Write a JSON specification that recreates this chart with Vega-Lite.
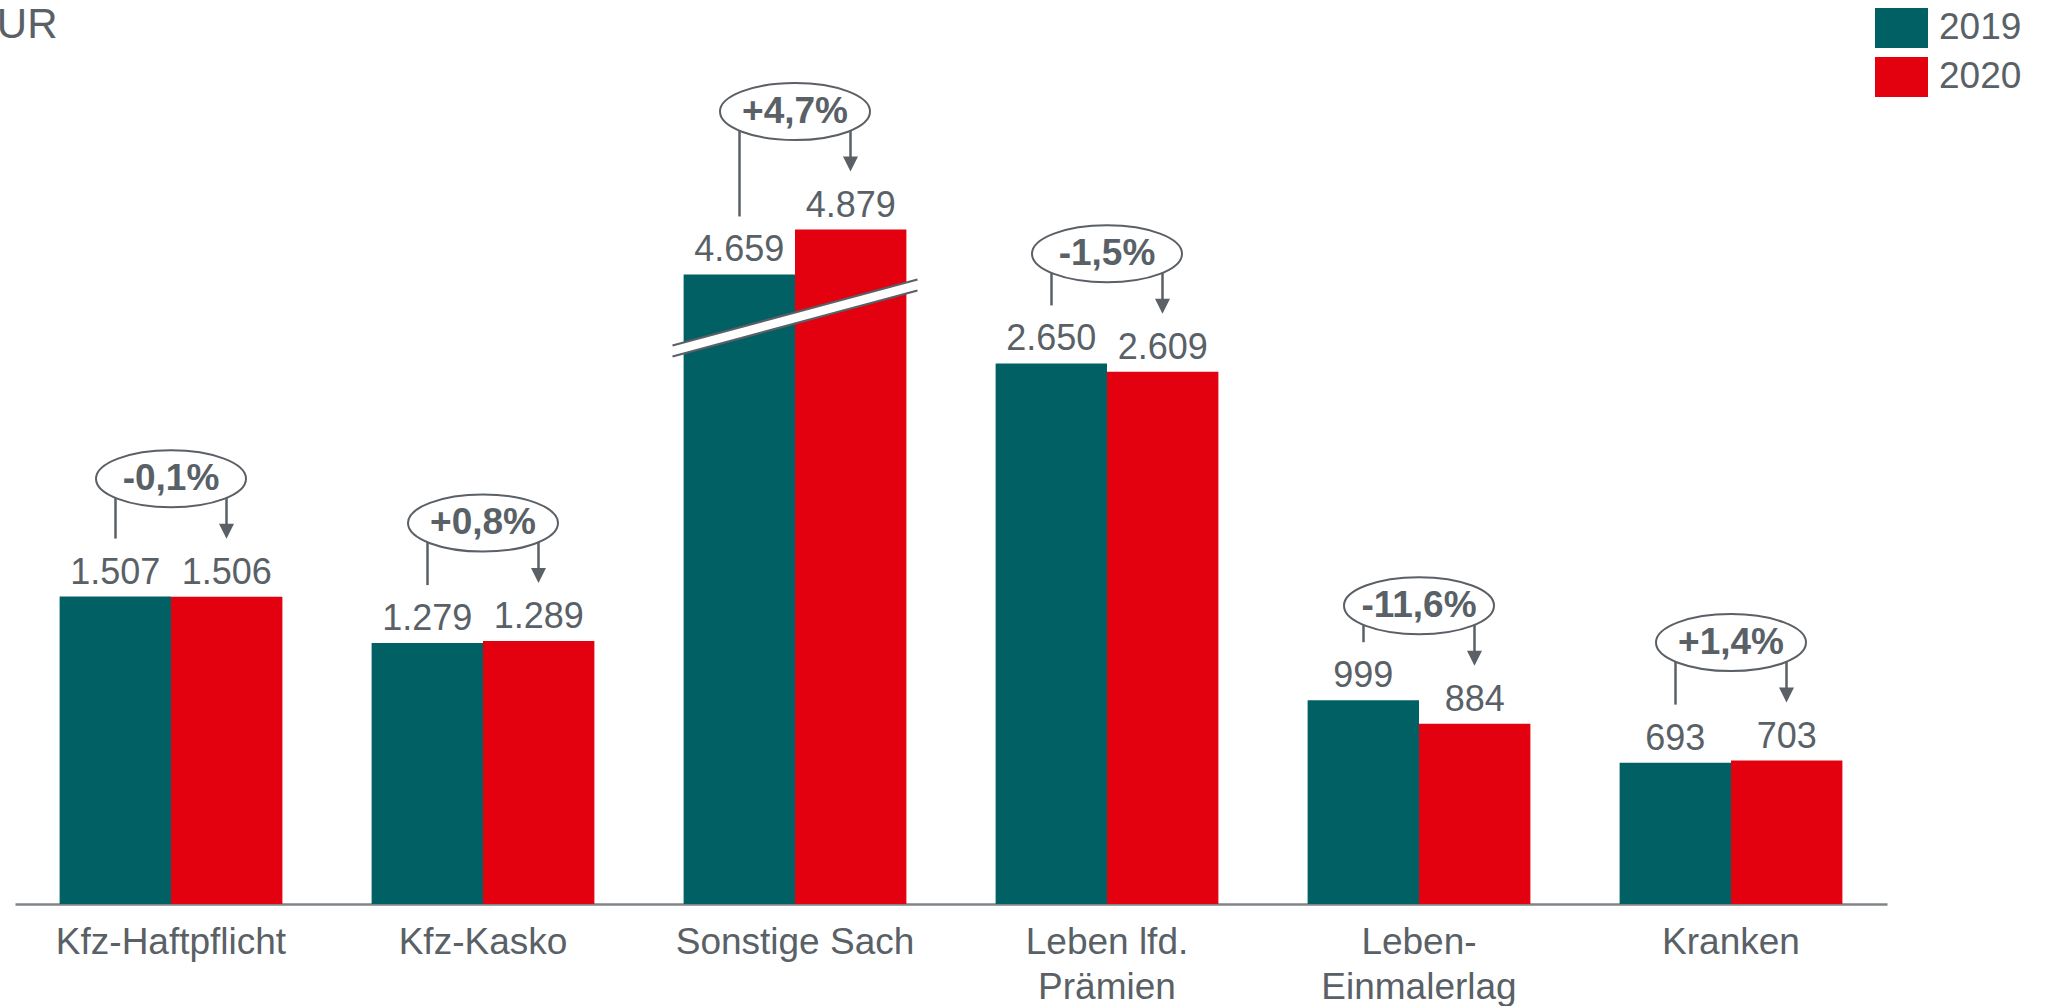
{
  "$schema": "https://vega.github.io/schema/vega-lite/v6.json",
  "width": 1872,
  "height": 904,
  "autosize": {"type": "none"},
  "padding": {"left": 15, "top": 0, "right": 160, "bottom": 102},
  "background": "white",
  "config": {
    "view": {"stroke": null},
    "font": "Liberation Sans",
    "locale": {"number": {"decimal": ",", "thousands": ".", "grouping": [3], "currency": ["", " €"]}}
  },
  "data": {"values": [
    {"cat": "Kfz-Haftpflicht", "2019": 1507, "2020": 1506, "pct": "-0,1%"},
    {"cat": "Kfz-Kasko", "2019": 1279, "2020": 1289, "pct": "+0,8%"},
    {"cat": "Sonstige Sach", "2019": 4659, "2020": 4879, "pct": "+4,7%"},
    {"cat": "Leben lfd. Prämien", "2019": 2650, "2020": 2609, "pct": "-1,5%"},
    {"cat": "Leben-Einmalerlag", "2019": 999, "2020": 884, "pct": "-11,6%"},
    {"cat": "Kranken", "2019": 693, "2020": 703, "pct": "+1,4%"}
  ]},
  "encoding": {
    "x": {
      "field": "cat", "type": "nominal", "sort": null,
      "scale": {"paddingInner": 0.286, "paddingOuter": 0.143},
      "axis": {
        "title": null, "domainColor": "#7F8589", "domainWidth": 2.5, "ticks": false,
        "labelFontSize": 37, "labelColor": "#596167", "labelPadding": 20, "labelAngle": 0,
        "labelLineHeight": 45, "labelBaseline": "top", "labelFont": "Liberation Sans",
        "labelOverlap": false, "labelLimit": 0,
        "labelExpr": "datum.label == 'Leben lfd. Prämien' ? ['Leben lfd.', 'Prämien'] : datum.label == 'Leben-Einmalerlag' ? ['Leben-', 'Einmalerlag'] : datum.label"
      }
    }
  },
  "layer": [
    {
      "transform": [{"fold": ["2019", "2020"], "as": ["year", "value"]}],
      "mark": {"type": "bar"},
      "encoding": {
        "xOffset": {"field": "year", "type": "nominal", "scale": {"domain": ["2019", "2020"], "paddingInner": 0, "paddingOuter": 0}},
        "y": {
          "field": "value", "type": "quantitative",
          "scale": {"domain": [0, 3000, 4573, 6004], "range": [904, 292, 292, 0], "nice": false, "zero": false},
          "axis": {
            "title": "Mio. EUR", "titleAngle": 0, "titleX": 42, "titleY": 37, "titleAlign": "right",
            "titleBaseline": "alphabetic", "titleFontSize": 42, "titleFontWeight": "normal",
            "titleColor": "#596167", "titleFont": "Liberation Sans",
            "labels": false, "ticks": false, "domain": false, "grid": false
          }
        },
        "color": {
          "field": "year", "type": "nominal",
          "scale": {"domain": ["2019", "2020"], "range": ["#006064", "#E3000F"]},
          "legend": {
            "title": null, "orient": "none", "legendX": 1860, "legendY": 1.5, "padding": 0,
            "symbolType": "M -1 -0.755 L 1 -0.755 L 1 0.755 L -1 0.755 Z",
            "symbolSize": 2809, "symbolStrokeWidth": 0, "symbolOpacity": 1,
            "labelFontSize": 37, "labelColor": "#596167", "labelOffset": 11, "rowPadding": 2,
            "labelFont": "Liberation Sans"
          }
        }
      }
    },
    {
      "transform": [{"fold": ["2019", "2020"], "as": ["year", "value"]}],
      "mark": {"type": "text", "align": "center", "baseline": "alphabetic", "dy": -13, "fontSize": 36, "color": "#596167"},
      "encoding": {
        "xOffset": {"field": "year", "type": "nominal", "scale": {"domain": ["2019", "2020"], "paddingInner": 0, "paddingOuter": 0}},
        "y": {"field": "value", "type": "quantitative", "scale": {"domain": [0, 3000, 4573, 6004], "range": [904, 292, 292, 0], "nice": false, "zero": false}},
        "text": {"field": "value", "type": "quantitative", "format": ","}
      }
    },
    {
      "transform": [{"filter": "datum.cat == 'Sonstige Sach'"}],
      "mark": {"type": "point", "shape": "M -1 0.2245 L 1 -0.3143 L 1 -0.2245 L -1 0.3143 Z", "size": 60025, "filled": true, "color": "white", "strokeWidth": 0, "opacity": 1, "yOffset": 43.5},
      "encoding": {
        "y": {"field": "2019", "type": "quantitative", "scale": {"domain": [0, 3000, 4573, 6004], "range": [904, 292, 292, 0], "nice": false, "zero": false}}
      }
    },
    {
      "transform": [{"filter": "datum.cat == 'Sonstige Sach'"}],
      "mark": {"type": "point", "shape": "M -1 0.2245 L 1 -0.3143 M -1 0.3143 L 1 -0.2245", "size": 60025, "filled": false, "color": "#5A6066", "strokeWidth": 2.2, "opacity": 1, "yOffset": 43.5},
      "encoding": {
        "y": {"field": "2019", "type": "quantitative", "scale": {"domain": [0, 3000, 4573, 6004], "range": [904, 292, 292, 0], "nice": false, "zero": false}}
      }
    },
    {
      "mark": {"type": "rule", "xOffset": -55.5, "yOffset": -58, "y2Offset": -118, "color": "#5A6066", "strokeWidth": 2.5},
      "encoding": {
        "y": {"field": "2019", "type": "quantitative", "scale": {"domain": [0, 3000, 4573, 6004], "range": [904, 292, 292, 0], "nice": false, "zero": false}},
        "y2": {"field": "2020"}
      }
    },
    {
      "mark": {"type": "rule", "xOffset": 55.5, "yOffset": -64, "y2Offset": -118, "color": "#5A6066", "strokeWidth": 2.5},
      "encoding": {
        "y": {"field": "2020", "type": "quantitative", "scale": {"domain": [0, 3000, 4573, 6004], "range": [904, 292, 292, 0], "nice": false, "zero": false}},
        "y2": {"field": "2020"}
      }
    },
    {
      "mark": {"type": "point", "shape": "M -1 -1 L 1 -1 L 0 1 Z", "size": 225, "filled": true, "color": "#5A6066", "opacity": 1, "xOffset": 55.5, "yOffset": -65.5},
      "encoding": {
        "y": {"field": "2020", "type": "quantitative", "scale": {"domain": [0, 3000, 4573, 6004], "range": [904, 292, 292, 0], "nice": false, "zero": false}}
      }
    },
    {
      "mark": {"type": "point", "shape": "M -1 0 A 1 0.38 0 1 1 1 0 A 1 0.38 0 1 1 -1 0 Z", "size": 22500, "filled": false, "fill": "white", "stroke": "#5A6066", "strokeWidth": 2, "opacity": 1, "fillOpacity": 1, "yOffset": -118},
      "encoding": {
        "y": {"field": "2020", "type": "quantitative", "scale": {"domain": [0, 3000, 4573, 6004], "range": [904, 292, 292, 0], "nice": false, "zero": false}}
      }
    },
    {
      "mark": {"type": "text", "align": "center", "baseline": "middle", "fontSize": 37, "fontWeight": "bold", "color": "#596167", "yOffset": -118},
      "encoding": {
        "y": {"field": "2020", "type": "quantitative", "scale": {"domain": [0, 3000, 4573, 6004], "range": [904, 292, 292, 0], "nice": false, "zero": false}},
        "text": {"field": "pct", "type": "nominal"}
      }
    }
  ]
}
